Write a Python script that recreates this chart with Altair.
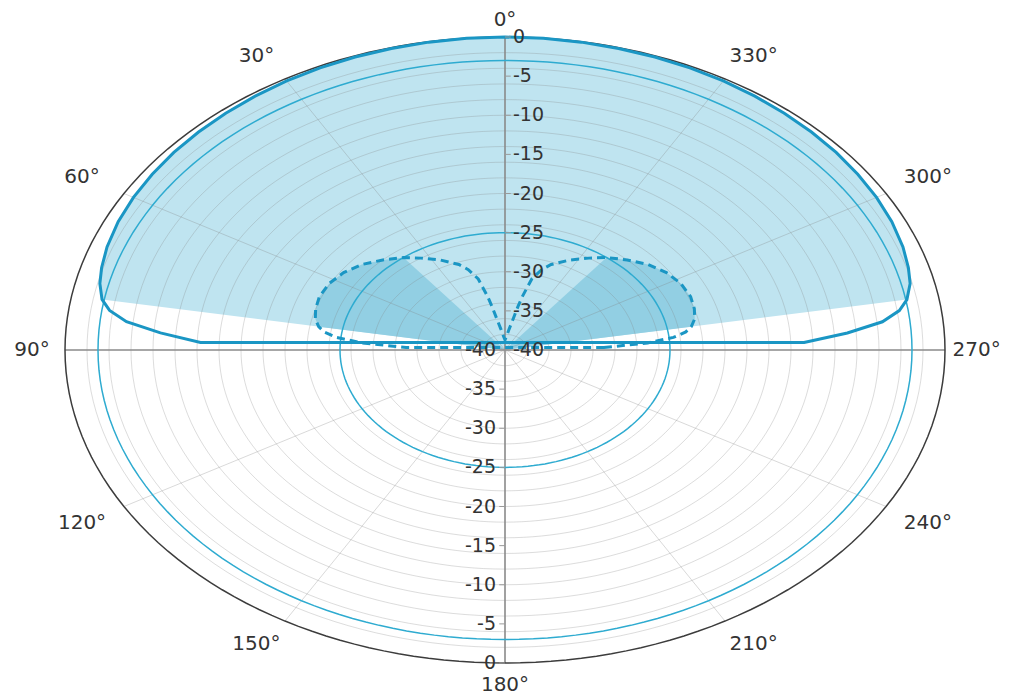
import altair as alt
import pandas as pd

# ---------------- data ----------------
# thick solid pattern (path order: right end -> top -> left end), dB
main_ang = [272, 274, 276, 278, 280, 283, 286, 290, 295, 300, 305, 310, 315, 320, 325,
            330, 335, 340, 345, 350, 355,
            0, 5, 10, 15, 20, 25, 30, 35, 40, 45, 50, 55, 60, 65, 70, 74, 77, 80,
            82, 84, 86, 88]
main_db = [-12.8, -8.8, -5.5, -3.8, -2.9, -2.2, -1.85, -1.5, -1.2, -1.0, -0.85, -0.7, -0.6,
           -0.5, -0.4, -0.3, -0.22, -0.15, -0.1, -0.05, -0.02,
           0.0, -0.02, -0.05, -0.1, -0.15, -0.22, -0.3, -0.4, -0.5, -0.6, -0.7, -0.85,
           -1.0, -1.2, -1.5, -1.85, -2.2, -2.8, -3.7, -5.4, -8.6, -12.3]

# dashed two-lobe pattern (path order: right end -> top -> left end), dB
lobe_ang = [272, 274, 276, 278, 280, 283, 287, 292, 298, 304, 310, 316, 322, 327, 333,
            339, 342, 345, 347, 348, 350, 352, 356,
            0, 4, 8, 10, 12, 13, 15, 18, 21, 27, 33, 38, 44, 50, 56, 62, 68, 73, 77, 80,
            82, 84, 86, 88]
lobe_db = [-31.0, -27.0, -24.6, -23.4, -22.8, -22.3, -22.0, -21.8, -21.9, -22.3, -23.0,
           -24.0, -25.0, -26.0, -27.1, -28.3, -29.2, -30.6, -33.0, -34.3, -36.4, -37.3,
           -38.3,
           -38.7, -38.3, -37.3, -36.4, -34.3, -33.0, -30.6, -29.2, -28.3, -27.1, -26.0,
           -25.0, -24.0, -23.0, -22.3, -21.9, -21.8, -22.0, -22.3, -22.8, -23.4, -24.6,
           -27.0, -31.0]

# coverage sectors (degrees) used for the shaded areas
main_fill_range = [-80, 80]
lobe_fill_ranges = [[38, 80], [280, 322]]

# thin constant reference circles (dB)
ref_levels = [-3, -25]

# grid / axes
grid_levels = list(range(-38, 0, 2))
outer_level = [0]
spoke_angles = [30, 60, 120, 150, 210, 240, 300, 330]
axis_angles = [0, 90]
angle_ticks = [0, 30, 60, 90, 120, 150, 180, 210, 240, 270, 300, 330]
angle_labels = ["0°", "30°", "60°", "90°", "120°", "150°", "180°", "210°",
                "240°", "270°", "300°", "330°"]
radial_vals = [0, -5, -10, -15, -20, -25, -30, -35, -40]
radial_labels = ["0", "-5", "-10", "-15", "-20", "-25", "-30", "-35", "-40"]

# ---------------- tables ----------------
main_df = pd.DataFrame({"ang": main_ang, "db": main_db, "i": range(len(main_ang))})
lobe_df = pd.DataFrame({"ang": lobe_ang, "db": lobe_db, "i": range(len(lobe_ang))})


def signed(a):
    return a - 360 if a > 180 else a


lo, hi = main_fill_range
mf = main_df[[lo <= signed(a) <= hi for a in main_df["ang"]]].copy()
mf = pd.concat([mf, pd.DataFrame({"ang": [0], "db": [-40.0], "i": [999]})])

parts = []
for k, (a0, a1) in enumerate(lobe_fill_ranges):
    p = lobe_df[(lobe_df["ang"] >= a0) & (lobe_df["ang"] <= a1)].copy()
    p = pd.concat([p, pd.DataFrame({"ang": [0], "db": [-40.0], "i": [999]})])
    p["part"] = k
    parts.append(p)
lf = pd.concat(parts)


def rings(levels):
    rows = []
    for lev in levels:
        for j, a in enumerate(range(0, 360, 2)):
            rows.append({"lev": lev, "ang": a, "db": lev, "i": j})
    return pd.DataFrame(rows)


grid_df = rings(grid_levels)
outer_df = rings(outer_level)
ref_df = rings(ref_levels)
spoke_df = pd.DataFrame({"ang": spoke_angles})
axis_df = pd.DataFrame({"ang": axis_angles})
alab_df = pd.DataFrame({"ang": angle_ticks, "label": angle_labels})
rl_df = pd.DataFrame({"db": radial_vals, "label": radial_labels})

# ---------------- encodings ----------------
SC = alt.Scale(domain=[-1, 1], nice=False, zero=False)
X = alt.X("x:Q", scale=SC, axis=None)
Y = alt.Y("y:Q", scale=SC, axis=None)

R_EXPR = "max(0, (datum.db + 40) / 40)"
X_EXPR = "-datum.R * sin(datum.ang * PI / 180)"
Y_EXPR = "datum.R * cos(datum.ang * PI / 180)"


def polar(df):
    return (alt.Chart(df)
            .transform_calculate(R=R_EXPR)
            .transform_calculate(x=X_EXPR, y=Y_EXPR))


light_fill = polar(mf).mark_line(
    filled=True, fill="#bfe4f0", interpolate="linear-closed", strokeWidth=0
).encode(x=X, y=Y, order=alt.Order("i:Q"))

dark_fill = polar(lf).mark_line(
    filled=True, fill="#92cfe3", interpolate="linear-closed", strokeWidth=0
).encode(x=X, y=Y, detail="part:N", order=alt.Order("i:Q"))

grid = polar(grid_df).mark_line(
    interpolate="linear-closed", color="#808080", strokeOpacity=0.28, strokeWidth=1
).encode(x=X, y=Y, detail="lev:N", order=alt.Order("i:Q"))

spokes = alt.Chart(spoke_df).transform_calculate(
    x="0", y="0",
    x2="-sin(datum.ang * PI / 180)", y2="cos(datum.ang * PI / 180)"
).mark_rule(color="#808080", strokeOpacity=0.3, strokeWidth=1).encode(
    x=X, y=Y, x2="x2:Q", y2="y2:Q")

axes = alt.Chart(axis_df).transform_calculate(
    x="-sin(datum.ang * PI / 180)", y="cos(datum.ang * PI / 180)",
    x2="sin(datum.ang * PI / 180)", y2="-cos(datum.ang * PI / 180)"
).mark_rule(color="#8a8a8a", strokeWidth=1.6).encode(
    x=X, y=Y, x2="x2:Q", y2="y2:Q")

outer = polar(outer_df).mark_line(
    interpolate="linear-closed", color="#3c3c3c", strokeWidth=1.5
).encode(x=X, y=Y, detail="lev:N", order=alt.Order("i:Q"))

refs = polar(ref_df).mark_line(
    interpolate="linear-closed", color="#2eabd0", strokeWidth=1.5
).encode(x=X, y=Y, detail="lev:N", order=alt.Order("i:Q"))

lobes = polar(lobe_df).mark_line(
    interpolate="linear-closed", color="#1a96c4", strokeWidth=3, strokeDash=[8, 5]
).encode(x=X, y=Y, order=alt.Order("i:Q"))

main = polar(main_df).mark_line(
    interpolate="linear-closed", color="#1a96c4", strokeWidth=3
).encode(x=X, y=Y, order=alt.Order("i:Q"))

# radial ticks and labels
rticks_top = alt.Chart(rl_df).transform_calculate(
    R=R_EXPR).transform_calculate(x="0", x2="0.013", y="datum.R").mark_rule(
    color="#9a9a9a", strokeWidth=1).encode(x=X, x2="x2:Q", y=Y)
rticks_bot = alt.Chart(rl_df).transform_calculate(
    R=R_EXPR).transform_calculate(x="-0.013", x2="0", y="-datum.R").mark_rule(
    color="#9a9a9a", strokeWidth=1).encode(x=X, x2="x2:Q", y=Y)

rlab_top = alt.Chart(rl_df).transform_calculate(
    R=R_EXPR).transform_calculate(x="0", y="datum.R").mark_text(
    align="left", baseline="middle", dx=8, font="DejaVu Sans", fontSize=19,
    color="#333333").encode(x=X, y=Y, text="label:N")
rlab_bot = alt.Chart(rl_df).transform_calculate(
    R=R_EXPR).transform_calculate(x="0", y="-datum.R").mark_text(
    align="right", baseline="middle", dx=-9, font="DejaVu Sans", fontSize=19,
    color="#333333").encode(x=X, y=Y, text="label:N")

# angle labels: slightly wider spacing on the diagonals, kept inside the page
alab = alt.Chart(alab_df).transform_calculate(
    s="sin(datum.ang * PI / 180)", c="cos(datum.ang * PI / 180)"
).transform_calculate(
    x="max(-1.075, min(1.072, -datum.s * (1.1 + 0.04 * datum.c * datum.c)))",
    y="max(-1.07, min(1.055, datum.c * (1.075 + 0.04 * datum.s * datum.s)))"
).mark_text(align="center", baseline="middle", font="DejaVu Sans", fontSize=20,
            color="#333333").encode(x=X, y=Y, text="label:N")

chart = alt.layer(
    light_fill, dark_fill, grid, spokes, axes, outer, refs, lobes, main,
    rticks_top, rticks_bot, rlab_top, rlab_bot, alab
).properties(
    width=880, height=626,
    autosize=alt.AutoSizeParams(type="none"),
    padding={"left": 57, "top": 29, "right": 66, "bottom": 28},
).configure_view(stroke=None)

chart.save("out.html", embed_options={"renderer": "svg", "actions": False})
